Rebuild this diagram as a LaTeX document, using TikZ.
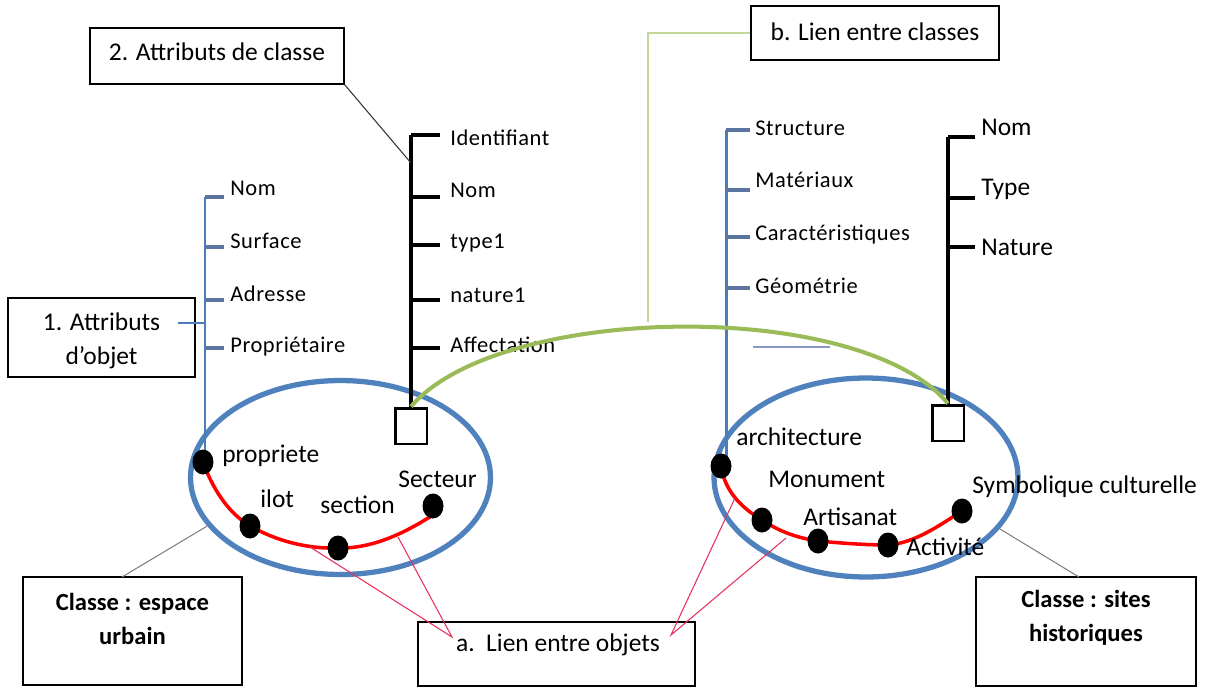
\documentclass[tikz,border=0pt]{standalone}
\usepackage{fontspec}
\setmainfont{Carlito}
\newfontfamily\smallf[LetterSpace=2.5]{Carlito}
\usetikzlibrary{shapes.geometric}
\definecolor{eblue}{HTML}{4F81BD}
\definecolor{tblue}{HTML}{4A7EBB}
\definecolor{tickb}{HTML}{5B75A0}
\definecolor{garc}{HTML}{9BBB59}
\definecolor{glight}{HTML}{C4D79B}
\definecolor{pinkl}{HTML}{E8305A}
\definecolor{lavb}{HTML}{8896C8}
\tikzset{
  boxr/.style={draw, line width=0.7pt, inner sep=0pt},
  boxtxt/.style={font=\fontsize{14.5}{19.5}\selectfont, align=center, inner sep=0pt},
  boldtxt/.style={font=\bfseries\fontsize{14}{19.5}\selectfont, align=center, inner sep=0pt},
  slbl/.style={font=\smallf\fontsize{12.8}{14}\selectfont, anchor=west, inner sep=0pt, text height=0.64em, text depth=0pt},
  blbl/.style={font=\fontsize{14.5}{17}\selectfont, anchor=west, inner sep=0pt, text height=0.64em, text depth=0pt},
  classell/.style={draw=eblue, line width=3pt, ellipse},
  dot/.style={fill=black, ellipse, inner sep=0pt, minimum width=0.4cm, minimum height=0.48cm},
  sq/.style={draw=black, fill=white, line width=1.7pt, inner sep=0pt, minimum width=0.64cm, minimum height=0.72cm},
  btree/.style={draw=black, line width=2.2pt},
  btick/.style={draw=black, line width=2.8pt},
  ltree/.style={draw=tblue, line width=1.7pt},
  ltick/.style={draw=tickb, line width=2.4pt},
  redc/.style={draw=red, line width=2pt},
  pinkc/.style={draw=pinkl, line width=0.6pt},
  grayc/.style={draw=gray, line width=0.6pt},
  blackc/.style={draw=black!80, line width=0.6pt},
}
\begin{document}
\begin{tikzpicture}[x=0.02cm, y=-0.02cm]
\useasboundingbox (0,0) rectangle (1211,687);
\fill[white] (0,0) rectangle (1211,687);

% class ellipses
\node[classell, minimum width=6.0cm, minimum height=3.88cm] (E1) at (340.5,477.5) {};
\node[classell, minimum width=6.08cm, minimum height=3.98cm] (E2) at (866,477.5) {};

% boxes
\node[boxr, minimum width=5.08cm, minimum height=1.12cm] (B2) at (217,56) {};
\node[boxtxt] (B2t) at (217,52) {2. Attributs de classe};
\node[boxr, minimum width=4.96cm, minimum height=1.08cm] (Bb) at (875,33) {};
\node[boxtxt] (Bbt) at (875,32) {b. Lien entre classes};
\node[boxr, minimum width=3.74cm, minimum height=1.58cm] (B1) at (101.5,337.5) {};
\node[boxtxt] (B1t) at (101.5,341) {1. Attributs\\d’objet};
\node[boxr, minimum width=4.38cm, minimum height=2.16cm] (CU) at (132.5,631) {};
\node[boldtxt] (CUt) at (132.5,619) {Classe : espace\\urbain};
\node[boxr, minimum width=4.4cm, minimum height=2.18cm] (CS) at (1086,631.5) {};
\node[boldtxt] (CSt) at (1086,618) {Classe : sites\\historiques};
\node[boxr, minimum width=5.54cm, minimum height=1.28cm] (BA) at (556.5,654) {};
\node[boxtxt] (BAt) at (558,645) {a.\ \ Lien entre objets};

% left blue tree (object attributes)
\coordinate (lb0) at (205,197);
\coordinate (lb1) at (205,247);
\coordinate (lb2) at (205,300);
\coordinate (lb3) at (205,348);
\coordinate (lbE) at (205,458);
\draw[ltree] (lb0) -- (lbE);
\foreach \i in {0,1,2,3} \draw[ltick] (lb\i) -- ++(19,0);
\node[slbl] (ln0) at (230,190) {Nom};
\node[slbl] (ln1) at (230,243) {Surface};
\node[slbl] (ln2) at (230,296) {Adresse};
\node[slbl] (ln3) at (230,347) {Propriétaire};

% left black tree (class attributes)
\node[sq] (S1) at (411,426) {};
\coordinate (kb0) at (411,135);
\coordinate (kb1) at (411,197);
\coordinate (kb2) at (411,245);
\coordinate (kb3) at (411,300);
\coordinate (kb4) at (411,348);
\draw[btree] (kb0) -- (S1.north);
\foreach \i in {0,1,2,3,4} \draw[btick] (kb\i) -- ++(29,0);
\node[slbl] (kn0) at (450,140) {Identifiant};
\node[slbl] (kn1) at (450,192) {Nom};
\node[slbl] (kn2) at (450,243) {type1};
\node[slbl] (kn3) at (450,297) {nature1};
\node[slbl] (kn4) at (450,347) {Affectation};

% right blue tree
\coordinate (rb0) at (726,130);
\coordinate (rb1) at (726,190);
\coordinate (rb2) at (726,237);
\coordinate (rb3) at (726,288);
\coordinate (rbE) at (726,460);
\draw[ltree] (rb0) -- (rbE);
\foreach \i in {0,1,2,3} \draw[ltick] (rb\i) -- ++(24,0);
\node[slbl] (rn0) at (755,130) {Structure};
\node[slbl] (rn1) at (755,182) {Matériaux};
\node[slbl] (rn2) at (755,235) {Caractéristiques};
\node[slbl] (rn3) at (755,288) {Géométrie};
\coordinate (lv0) at (753,347);
\coordinate (lv1) at (830,347);
\draw[draw=lavb, line width=0.9pt] (lv0) -- (lv1);

% right black tree
\node[sq] (S2) at (948,423) {};
\coordinate (qb0) at (948,137);
\coordinate (qb1) at (948,198);
\coordinate (qb2) at (948,247);
\draw[btree] (qb0) -- (S2.north);
\foreach \i in {0,1,2} \draw[btick] (qb\i) -- ++(27,0);
\node[blbl] (qn0) at (981,130) {Nom};
\node[blbl] (qn1) at (981,190) {Type};
\node[blbl] (qn2) at (981,250) {Nature};

% link between classes
\draw[draw=garc, line width=2.3pt] (S1.north) .. controls (500,303) and (860,298) .. (S2.north);
\coordinate (gtop) at (648,322);
\draw[draw=glight, line width=0.9pt] (gtop) |- (Bb.west);

% red object links and dots
\node[dot] (d1) at (203,462) {};
\node[dot] (d2) at (250,526) {};
\node[dot] (d3) at (338,548) {};
\node[dot] (d4) at (433,506) {};
\node[dot] (e1) at (721,466) {};
\node[dot] (e2) at (762,520) {};
\node[dot] (e3) at (818,541) {};
\node[dot] (e4) at (888,545) {};
\node[dot] (e5) at (962,511) {};
\draw[redc] (d1.center) .. controls (215,495) and (232,515) .. (d2.center)
  .. controls (275,540) and (305,549) .. (d3.center)
  .. controls (375,549) and (410,530) .. (436,513);
\draw[redc] (e1.center) .. controls (725,492) and (742,508) .. (e2.center)
  .. controls (780,532) and (798,538) .. (e3.center)
  .. controls (840,543) and (865,545) .. (e4.center)
  .. controls (915,543) and (940,525) .. (e5.center);
% dots on top of the red links
\foreach \d in {d1,d2,d3,d4,e1,e2,e3,e4,e5}
  \fill[black] (\d.center) ellipse [x radius=0.21cm, y radius=0.25cm];

% object labels
\node[blbl] (t1) at (222,457) {propriete};
\node[blbl] (t2) at (260,502) {ilot};
\node[blbl] (t3) at (320,508) {section};
\node[blbl] (t4) at (398,482) {Secteur};
\node[blbl] (u1) at (736,440) {architecture};
\node[blbl] (u2) at (768,482) {Monument};
\node[blbl] (u3) at (803,520) {Artisanat};
\node[blbl] (u4) at (906,550) {Activité};
\node[blbl] (u5) at (972,488) {Symbolique culturelle};

% connectors
\coordinate (bt1) at (411,163);
\draw[blackc] (B2.south east) -- (bt1);
\coordinate (a1s) at (178,323);
\coordinate (a1e) at (205,323);
\draw[draw=tblue, line width=0.6pt] (a1s) -- (a1e);
\coordinate (cuT) at (122,577);
\draw[grayc] (cuT) -- (E1.200);
\coordinate (csT) at (1079,577);
\draw[grayc] (csT) -- (E2.339);
\coordinate (pl) at (452,637);
\coordinate (pl1) at (310,547);
\coordinate (pl2) at (398,537);
\draw[pinkc] (pl1) -- (pl) -- (pl2);
\coordinate (pr) at (671,635);
\coordinate (pr1) at (735,498);
\coordinate (pr2) at (786,538);
\draw[pinkc] (pr1) -- (pr) -- (pr2);
\end{tikzpicture}
\end{document}
